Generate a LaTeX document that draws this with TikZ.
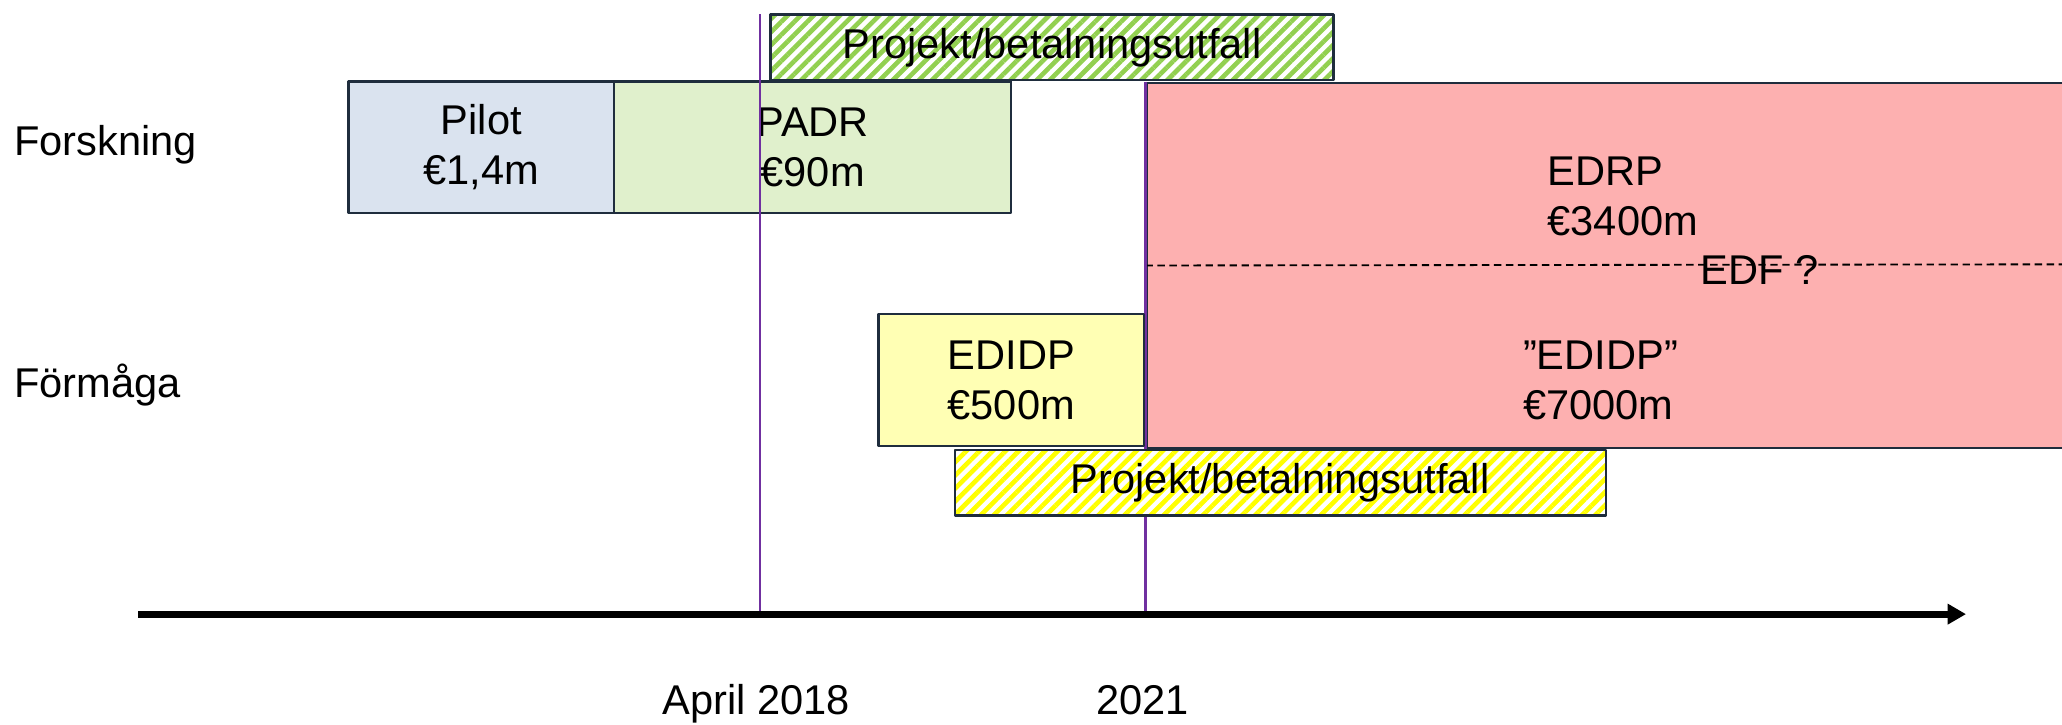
\documentclass[tikz,border=0pt]{standalone}
\usepackage{fontspec}
\setmainfont{Liberation Sans}
\usetikzlibrary{arrows.meta,patterns.meta}
\definecolor{pilotblue}{HTML}{DAE3EF}
\definecolor{padrgreen}{HTML}{E0F0CC}
\definecolor{edidpyellow}{HTML}{FFFFB4}
\definecolor{edfred}{HTML}{FDB0B0}
\definecolor{hatchgreen}{HTML}{92D050}
\definecolor{boxline}{HTML}{1F2D3D}
\definecolor{milepurple}{HTML}{7030A0}
\begin{document}
\begin{tikzpicture}[font=\fontsize{9}{10.8}\selectfont, line join=round,
	box/.style={draw=boxline, line width=0.5pt, align=center, inner sep=0pt, minimum height=1cm},
	hatch/.style={box, minimum height=0.5cm, preaction={fill=white}, pattern={Lines[angle=45,distance=2pt,line width=1pt]}},
	milestone/.style={milepurple, line width=0.6pt}]
					\useasboundingbox (0,0) rectangle (15.68,-5.51);
					\clip (0,0) rectangle (15.68,-5.51);
					\node[anchor=west, inner sep=0pt] (forsk) at (0.10,-1.10) {Forskning};
					\node[anchor=west, inner sep=0pt] (form) at (0.10,-2.93) {Förmåga};
					\node[box, fill=pilotblue, minimum width=2.02cm] (pilot) at (3.66,-1.12) {Pilot\\€1,4m};
					\node[box, fill=padrgreen, minimum width=3.02cm] (padr) at (6.18,-1.12) {PADR\\€90m};
					\node[box, fill=edfred, anchor=north west, minimum width=7.4cm, minimum height=2.78cm] (edf) at (8.71,-0.62) {};
					\draw[line width=0.4pt, dash pattern=on 1.6pt off 1pt] (edf.west) -- (15.68,-2.01) coordinate (edfend);
					\node[align=left] (edrp) at (12.34,-1.49) {EDRP\\€3400m};
					\node (edfq) at (13.38,-2.05) {EDF ?};
					\node[align=left] (edidpnew) at (12.17,-2.89) {”EDIDP”\\€7000m};
					\node[hatch, pattern color=hatchgreen, minimum width=4.28cm] (utfallF) at (8.00,-0.36) {Projekt/betalningsutfall};
					\draw[milestone] (5.78,-0.11) coordinate (aprtop) -- (5.78,-4.67) coordinate (aprbot);
					\draw[milestone] (edf.north west) -- (8.71,-4.67) coordinate (endbot);
					\node[box, fill=edidpyellow, minimum width=2.02cm] (edidp) at (7.69,-2.89) {EDIDP\\€500m};
					\node[hatch, pattern color=yellow, minimum width=4.95cm] (utfallA) at (9.735,-3.67) {Projekt/betalningsutfall};
					\draw[line width=1.5pt, -{Triangle[length=0.14cm,width=0.15cm]}] (1.05,-4.67) coordinate (t0) -- (14.95,-4.67) coordinate (t1);
					\node[anchor=base] (apr) at (5.75,-5.43) {April 2018};
					\node[anchor=base] (yr) at (8.69,-5.43) {2021};
				\end{tikzpicture}
\end{document}
